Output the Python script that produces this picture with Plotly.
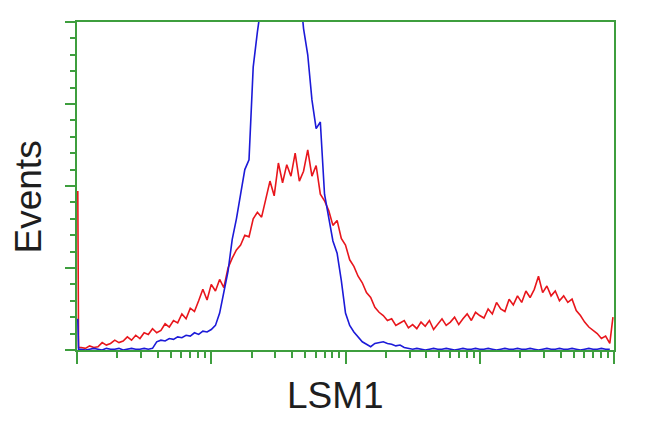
import math
import plotly.graph_objects as go

# Histogram channels (1024-channel log scale, 4 decades)
RED_CH = [1.5, 3] + list(range(8, 1024, 8)) + [1022]
RED_COUNTS = [194, 3,
              3, 2, 5, 3, 4, 9, 6, 8,
              12, 9, 11, 16, 12, 18, 14, 21,
              19, 26, 21, 24, 32, 28, 36, 33,
              44, 38, 51, 47, 60, 74, 61, 80,
              72, 86, 76, 100, 112, 122, 128, 140,
              138, 160, 168, 162, 184, 206, 188, 228,
              204, 226, 212, 240, 206, 218, 244, 212,
              225, 190, 182, 170, 152, 158, 136, 128,
              110, 102, 90, 82, 70, 64, 52, 46,
              42, 36, 38, 30, 33, 36, 27, 31,
              26, 34, 29, 36, 25, 32, 38, 30,
              34, 40, 31, 38, 44, 36, 46, 42,
              39, 50, 44, 58, 50, 47, 62, 55,
              66, 58, 72, 64, 74, 90, 70, 78,
              66, 72, 60, 66, 58, 62, 48, 42,
              34, 28, 24, 20, 14, 17, 8,
              40]

BLUE_CH = [1.5, 3] + list(range(8, 1024, 8))
BLUE_COUNTS = [38, 1,
               1, 0, 1, 2, 1, 0, 2, 1,
               1, 2, 0, 1, 2, 1, 1, 2,
               1, 2, 10, 12, 11, 14, 13, 16,
               15, 18, 17, 21, 19, 23, 22, 25,
               30, 45, 70, 96, 135, 160, 190, 220,
               232, 345, 388, 430, 480, 520, 550, 570,
               575, 560, 540, 500, 450, 392, 360, 305,
               270, 278, 190, 160, 133, 118, 85, 45,
               30, 22, 16, 10, 7, 4, 8, 9,
               10, 8, 7, 5, 6, 3, 2, 1,
               2, 1, 0, 1, 2, 1, 1, 2,
               1, 0, 1, 2, 1, 1, 2, 1,
               1, 2, 1, 0, 1, 2, 1, 1,
               2, 1, 1, 2, 1, 0, 1, 2,
               1, 1, 2, 1, 1, 2, 1, 0,
               1, 2, 1, 1, 2, 1, 1]

X_TITLE = "LSM1"
Y_TITLE = "Events"

GREEN = "#3e9e3e"
CH_PER_DECADE = 256
DECADES = 4
major_x = [d * CH_PER_DECADE for d in range(DECADES + 1)]
minor_x = [CH_PER_DECADE * (d + math.log10(k)) for d in range(DECADES) for k in range(2, 10)]

fig = go.Figure()
fig.add_trace(go.Scatter(x=RED_CH, y=RED_COUNTS, mode="lines",
                         line=dict(color="#e8161c", width=1.6), showlegend=False))
fig.add_trace(go.Scatter(x=BLUE_CH, y=BLUE_COUNTS, mode="lines",
                         line=dict(color="#1c1ad8", width=1.6), showlegend=False))

fig.update_layout(
    width=642, height=424,
    margin=dict(l=69, r=36, t=12, b=82),
    paper_bgcolor="white", plot_bgcolor="white",
    font=dict(family="Liberation Sans, Arial, sans-serif", color="#1e1e1e"),
    xaxis=dict(range=[0, 1024], showgrid=False, zeroline=False,
               showline=True, linecolor=GREEN, linewidth=2, mirror=True,
               tickmode="array", tickvals=major_x, ticks="outside",
               ticklen=12, tickwidth=2, tickcolor=GREEN, showticklabels=False,
               minor=dict(tickmode="array", tickvals=minor_x, ticks="outside",
                          ticklen=6, tickwidth=2, tickcolor=GREEN),
               layer="below traces"),
    yaxis=dict(range=[0, 400], showgrid=False, zeroline=False,
               showline=True, linecolor=GREEN, linewidth=2, mirror=True,
               dtick=100, ticks="outside", ticklen=10, tickwidth=2,
               tickcolor=GREEN, showticklabels=False,
               minor=dict(dtick=20, ticks="outside", ticklen=5, tickwidth=2,
                          tickcolor=GREEN),
               layer="below traces"),
    annotations=[
        dict(text=X_TITLE, xref="paper", yref="paper", x=0.482, y=0,
             yshift=-45, xanchor="center", yanchor="middle", showarrow=False,
             font=dict(size=37, color="#1e1e1e")),
        dict(text=Y_TITLE, xref="paper", yref="paper", x=0, y=0.465,
             xshift=-49, xanchor="center", yanchor="middle", showarrow=False,
             textangle=-90, font=dict(size=37, color="#1e1e1e")),
    ],
)

fig.write_html("out.html")
